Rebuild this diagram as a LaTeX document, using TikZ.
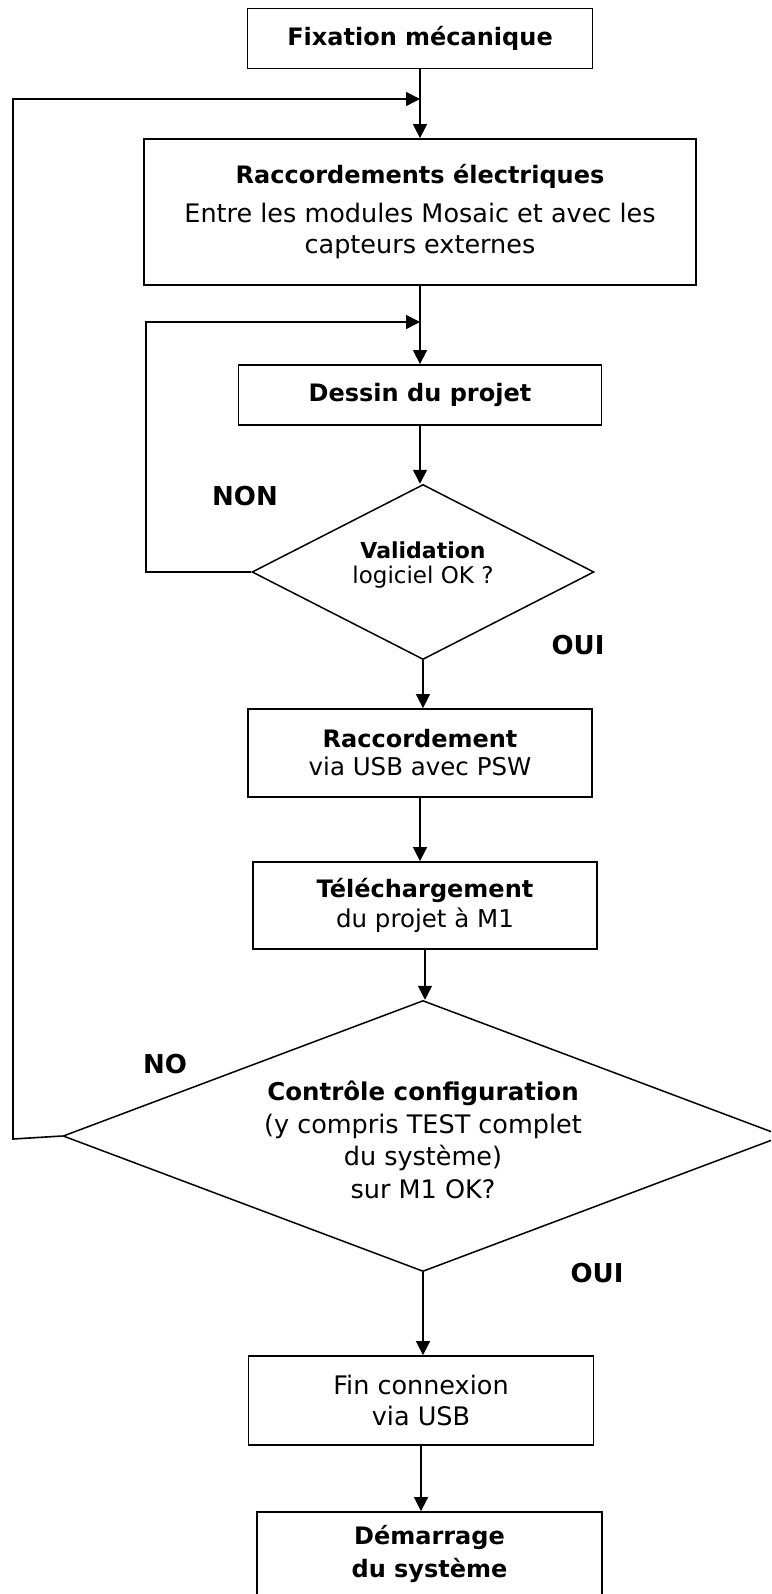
\documentclass[tikz,border=0pt]{standalone}
\usepackage{fontspec}
\setmainfont{DejaVu Sans}
\usetikzlibrary{arrows.meta,shapes.geometric}
\begin{document}
\begin{tikzpicture}[x=1pt,y=-1pt,
  line width=1.6pt,
  box/.style={draw, rectangle, line width=1.8pt, inner sep=0pt, align=center, font=\fontsize{25.5}{31}\selectfont},
  dec/.style={draw, diamond, inner sep=0pt, line width=1.5pt},
  dectext/.style={align=center, inner sep=0pt},
  lbl/.style={font=\fontsize{26}{30}\selectfont\bfseries, inner sep=0pt},
  arr/.style={-{Triangle[length=14pt,width=14pt]}}]
\useasboundingbox (0,0) rectangle (771,1594);
\clip (0,0) rectangle (771,1594);
% boxes
\node[box, minimum width=345, minimum height=60] (fix) at (420,38.5) {{\fontsize{24}{31}\selectfont\bfseries Fixation mécanique}};
\node[box, minimum width=552, minimum height=146] (elec) at (420,212) {{\fontsize{24}{31}\selectfont\bfseries Raccordements électriques}\\[8pt]Entre les modules Mosaic et avec les\\capteurs externes};
\node[box, minimum width=363, minimum height=60] (dess) at (420,395) {{\fontsize{24}{31}\selectfont\bfseries Dessin du projet}};
\node[dec, minimum width=342, minimum height=175] (val) at (423,572) {};
\node[dectext, font=\fontsize{23}{25}\selectfont] (valt) at ([yshift=7pt]val.center) {{\fontsize{22}{25}\selectfont\bfseries Validation}\\logiciel OK ?};
\node[box, minimum width=344, minimum height=88, font=\fontsize{24.5}{28}\selectfont] (racc) at (420,753) {{\fontsize{24}{28}\selectfont\bfseries Raccordement}\\via USB avec PSW};
\node[box, minimum width=344, minimum height=87, font=\fontsize{24.5}{30}\selectfont] (tel) at (425,905.5) {{\fontsize{24}{30}\selectfont\bfseries Téléchargement}\\du projet à M1};
\node[dec, minimum width=720, minimum height=271] (cfg) at (423,1136) {};
\node[dectext, font=\fontsize{25.5}{32.5}\selectfont] (cfgt) at ([yshift=-4pt]cfg.center) {{\fontsize{24.5}{32.5}\selectfont\bfseries Contrôle configuration}\\(y compris TEST complet\\du système)\\sur M1 OK?};
\node[box, minimum width=345, minimum height=89] (fin) at (421,1400.5) {Fin connexion\\via USB};
\node[box, minimum width=345, minimum height=84, font=\fontsize{24}{33}\selectfont\bfseries] (dem) at (429.5,1554) {Démarrage\\du système};
% labels
\node[lbl] (non) at (245,496) {NON};
\node[lbl] (oui1) at (578,645) {OUI};
\node[lbl] (no) at (165,1064) {NO};
\node[lbl] (oui2) at (597,1273) {OUI};
% loop coordinates
\coordinate (o1) at (13,99);
\coordinate (o2) at (13,1139);
\coordinate (i1) at (146,322);
\coordinate (i2) at (146,572);
% connectors
\draw[arr] (fix.south) -- (fix.south |- elec.north);
\draw[arr] (elec.south) -- (elec.south |- dess.north);
\draw[arr] (dess.south) -- (dess.south |- val.north);
\draw[arr] (val.south) -- (val.south |- racc.north);
\draw[arr] (racc.south) -- (racc.south |- tel.north);
\draw[arr] (tel.south) -- (tel.south |- cfg.north);
\draw[arr] (cfg.south) -- (cfg.south |- fin.north);
\draw[arr] (fin.south) -- (fin.south |- dem.north);
% loops
\draw[arr] (cfg.west) -- (o2) -- (o1) -- (fix.south |- o1);
\draw[arr] (val.west) -- (i2) -- (i1) -- (elec.south |- i1);
\end{tikzpicture}
\end{document}
